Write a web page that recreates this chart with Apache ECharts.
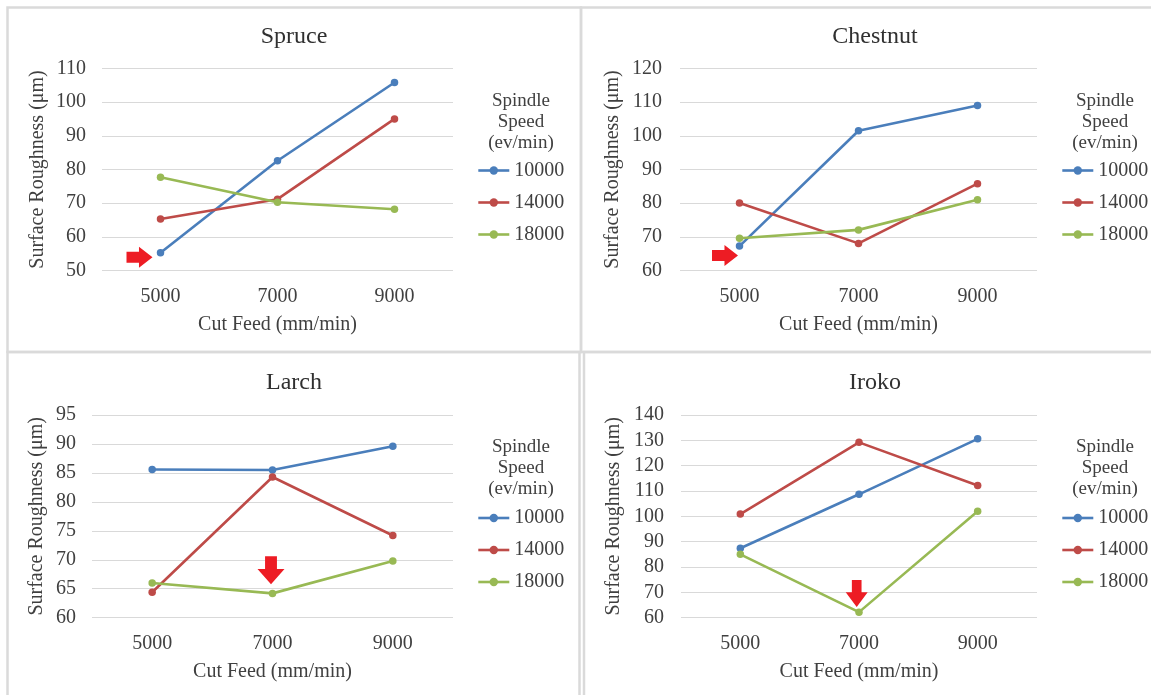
<!DOCTYPE html>
<html><head><meta charset="utf-8">
<script src="https://cdn.jsdelivr.net/npm/echarts@6/dist/echarts.min.js"></script>
<style>html,body{margin:0;padding:0;background:#fff}#c{width:1151px;height:695px}</style>
</head><body><div id="c"></div>
<script>
// ---- data ----
const categories = ['5000', '7000', '9000'];
const speeds = ['10000', '14000', '18000'];
const woods = ['Spruce', 'Chestnut', 'Larch', 'Iroko'];

const spruce10000 = [55.3, 82.6, 105.8];
const spruce14000 = [65.3, 71.2, 95.0];
const spruce18000 = [77.7, 70.3, 68.2];

const chestnut10000 = [67.3, 101.5, 109.0];
const chestnut14000 = [80.1, 68.1, 85.8];
const chestnut18000 = [69.6, 72.1, 81.0];

const larch10000 = [85.6, 85.5, 89.6];
const larch14000 = [64.4, 84.3, 74.2];
const larch18000 = [66.0, 64.2, 69.8];

const iroko10000 = [87.4, 108.7, 130.6];
const iroko14000 = [100.9, 129.2, 112.2];
const iroko18000 = [85.0, 62.2, 102.0];

// y axis ticks: [min, max, step]
const spruceTicks = [50, 110, 10];
const chestnutTicks = [60, 120, 10];
const larchTicks = [60, 95, 5];
const irokoTicks = [60, 140, 10];

// arrow anchor (category, value)
const spruceArrow = ['5000', 54];
const chestnutArrow = ['5000', 64.5];
const larchArrow = ['7000', 68.2];
const irokoArrow = ['7000', 69.6];

// ---- styles ----
const colors = ['#4A7EBB', '#BE4B48', '#98B954'];
const serif = '"Liberation Serif", "DejaVu Serif", serif';
const textColor = '#404040';
const gridColor = '#d9d9d9';
const arrowRed = '#ED1C24';
const rightArrow = 'path://M0,24 L48,24 L48,0 L100,50 L48,100 L48,76 L0,76 Z';
const downArrow = 'path://M28,0 L72,0 L72,46 L100,46 L50,100 L0,46 L28,46 Z';

const panels = [
  { title: woods[0], values: [spruce10000, spruce14000, spruce18000], ticks: spruceTicks, arrow: spruceArrow,
    grid: { left: 102, top: 68.3, width: 351, height: 202.4 }, yNameGap: 54, yLabelMargin: 16,
    legend: { left: 472, top: 155.5 }, titlePos: [294, 37], headPos: [521, 122],
    arrowSym: rightArrow, arrowSize: [26, 21], arrowOffset: [-21, 0] },
  { title: woods[1], values: [chestnut10000, chestnut14000, chestnut18000], ticks: chestnutTicks, arrow: chestnutArrow,
    grid: { left: 680, top: 68.3, width: 357, height: 202.4 }, yNameGap: 57.5, yLabelMargin: 18,
    legend: { left: 1056, top: 155.5 }, titlePos: [875, 37], headPos: [1105, 122],
    arrowSym: rightArrow, arrowSize: [26, 21], arrowOffset: [-14.5, 0] },
  { title: woods[2], values: [larch10000, larch14000, larch18000], ticks: larchTicks, arrow: larchArrow,
    grid: { left: 92, top: 415, width: 361, height: 202.7 }, yNameGap: 45, yLabelMargin: 16,
    legend: { left: 472, top: 503 }, titlePos: [294, 383], headPos: [521, 468.5],
    arrowSym: downArrow, arrowSize: [27, 28], arrowOffset: [-1.5, 0] },
  { title: woods[3], values: [iroko10000, iroko14000, iroko18000], ticks: irokoTicks, arrow: irokoArrow,
    grid: { left: 681, top: 415, width: 356, height: 202.7 }, yNameGap: 57.5, yLabelMargin: 17,
    legend: { left: 1056, top: 503 }, titlePos: [875, 383], headPos: [1105, 468.5],
    arrowSym: downArrow, arrowSize: [22, 27], arrowOffset: [-2.3, 0] }
];

const grid = [], xAxis = [], yAxis = [], series = [], legend = [];
const graphic = [
  { type: 'rect', shape: { x: 7.5, y: 7.5, width: 573.5, height: 344.5 }, style: { fill: null, stroke: '#dadada', lineWidth: 2.5 }, z: 0 },
  { type: 'rect', shape: { x: 581, y: 7.5, width: 600, height: 344.5 }, style: { fill: null, stroke: '#dadada', lineWidth: 2.5 }, z: 0 },
  { type: 'rect', shape: { x: 7.5, y: 352, width: 572, height: 400 }, style: { fill: null, stroke: '#dadada', lineWidth: 2.5 }, z: 0 },
  { type: 'rect', shape: { x: 584, y: 352, width: 600, height: 400 }, style: { fill: null, stroke: '#dadada', lineWidth: 2.5 }, z: 0 }
];

panels.forEach((p, i) => {
  grid.push(Object.assign({ containLabel: false }, p.grid));
  xAxis.push({
    type: 'category', gridIndex: i, data: categories, boundaryGap: true,
    axisLine: { show: false }, axisTick: { show: false }, splitLine: { show: false },
    axisLabel: { margin: 16, fontFamily: serif, fontSize: 20, color: textColor },
    name: 'Cut Feed (mm/min)', nameLocation: 'middle', nameGap: 44,
    nameTextStyle: { fontFamily: serif, fontSize: 20, color: textColor }
  });
  yAxis.push({
    type: 'value', gridIndex: i, min: p.ticks[0], max: p.ticks[1], interval: p.ticks[2],
    axisLine: { show: false }, axisTick: { show: false },
    splitLine: { show: true, lineStyle: { color: gridColor, width: 1 } },
    axisLabel: { margin: p.yLabelMargin, fontFamily: serif, fontSize: 20, color: textColor },
    name: 'Surface Roughness (μm)', nameLocation: 'middle', nameRotate: 90, nameGap: p.yNameGap,
    nameTextStyle: { fontFamily: serif, fontSize: 20, color: textColor }
  });
  speeds.forEach((s, j) => {
    const ser = {
      type: 'line', name: s, xAxisIndex: i, yAxisIndex: i, data: p.values[j],
      symbol: 'circle', symbolSize: 7.5, showSymbol: true,
      lineStyle: { width: 2.6, color: colors[j] },
      itemStyle: { color: colors[j], borderWidth: 0 },
      z: 3 + j
    };
    if (j === 0) {
      ser.markPoint = {
        silent: true,
        label: { show: false },
        data: [{ coord: p.arrow, symbol: p.arrowSym, symbolSize: p.arrowSize, symbolOffset: p.arrowOffset,
                 itemStyle: { color: arrowRed } }]
      };
    }
    series.push(ser);
  });
  legend.push({
    data: speeds, orient: 'vertical', left: p.legend.left, top: p.legend.top,
    itemWidth: 31, itemHeight: 10.5, itemGap: 12, selectedMode: false,
    lineStyle: { width: 2.6 },
    textStyle: { fontFamily: serif, fontSize: 20, color: textColor }
  });
  graphic.push({
    type: 'text', x: p.titlePos[0], y: p.titlePos[1], z: 10,
    style: { text: p.title, fill: '#303030', font: '24px ' + serif, align: 'center', verticalAlign: 'middle' }
  });
  graphic.push({
    type: 'text', x: p.headPos[0], y: p.headPos[1], z: 10,
    style: { text: 'Spindle\nSpeed\n(ev/min)', fill: textColor, font: '19px ' + serif, lineHeight: 21,
             align: 'center', verticalAlign: 'middle' }
  });
});

const chart = echarts.init(document.getElementById('c'), null, { renderer: 'canvas' });
chart.setOption({
  animation: false,
  backgroundColor: '#ffffff',
  color: colors,
  grid, xAxis, yAxis, series, legend, graphic
});
</script>
</body></html>
